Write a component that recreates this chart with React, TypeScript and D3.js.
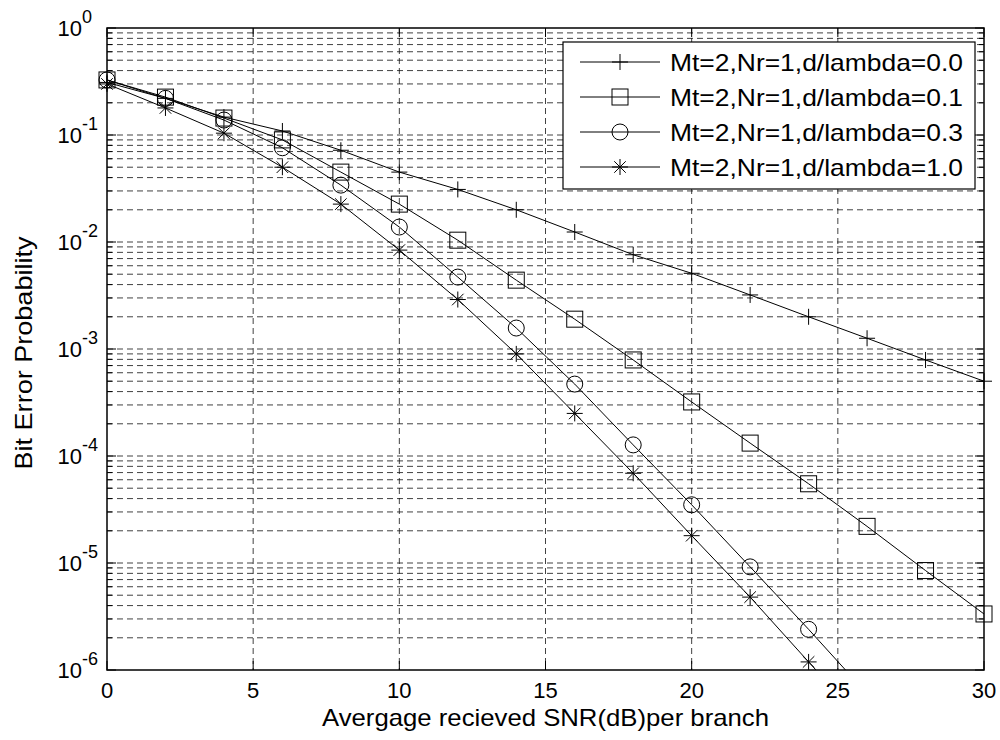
import React from "react";
import * as d3 from "d3";

// SNR in dB
const snr = [0, 2, 4, 6, 8, 10, 12, 14, 16, 18, 20, 22, 24, 26, 28, 30];

const berD00 = [0.31, 0.22, 0.147, 0.109, 0.072, 0.045, 0.031, 0.020, 0.0124, 0.0076, 0.0051, 0.0032, 0.0020, 0.00126, 0.00079, 0.0005];
const berD01 = [0.327, 0.226, 0.144, 0.090, 0.045, 0.0226, 0.0104, 0.0044, 0.0019, 0.00079, 0.00032, 0.000132, 5.5e-5, 2.2e-5, 8.5e-6, 3.34e-6];
const berD03 = [0.327, 0.22, 0.138, 0.076, 0.034, 0.0138, 0.0047, 0.00157, 0.00047, 0.000127, 3.5e-5, 9.2e-6, 2.4e-6, 6e-7];
const berD10 = [0.30, 0.179, 0.104, 0.050, 0.0226, 0.0084, 0.0029, 0.0009, 0.00025, 6.9e-5, 1.8e-5, 4.8e-6, 1.19e-6, 3e-7];

const seriesNames = [
  "Mt=2,Nr=1,d/lambda=0.0",
  "Mt=2,Nr=1,d/lambda=0.1",
  "Mt=2,Nr=1,d/lambda=0.3",
  "Mt=2,Nr=1,d/lambda=1.0",
];
const markers = ["plus", "square", "circle", "star"];
const xTicks = [0, 5, 10, 15, 20, 25, 30];
const yDecades = [0, -1, -2, -3, -4, -5, -6];

const W = 1000;
const H = 740;
const m = { left: 107, top: 28, right: 984, bottom: 670 };
const font = "Liberation Sans, Arial, Helvetica, sans-serif";

function Marker({ type, x, y }: { type: string; x: number; y: number }) {
  const s = 8;
  const st = { stroke: "#000", strokeWidth: 1, fill: "none" };
  if (type === "plus")
    return <path d={`M${x - s},${y}H${x + s}M${x},${y - s}V${y + s}`} {...st} />;
  if (type === "square")
    return <rect x={x - s} y={y - s} width={2 * s} height={2 * s} {...st} />;
  if (type === "circle") return <circle cx={x} cy={y} r={s} {...st} />;
  const d = s * 0.72;
  return (
    <path
      d={`M${x - s},${y}H${x + s}M${x},${y - s}V${y + s}M${x - d},${y - d}L${x + d},${y + d}M${x - d},${y + d}L${x + d},${y - d}`}
      {...st}
    />
  );
}

export default function App() {
  const x = d3.scaleLinear().domain([0, 30]).range([m.left, m.right]);
  const y = d3.scaleLog().domain([1e-6, 1]).range([m.bottom, m.top]);
  const all = [berD00, berD01, berD03, berD10];
  const line = d3
    .line<number>()
    .x((_, i) => x(snr[i]))
    .y((d) => y(d));

  const minors: number[] = [];
  yDecades.slice(1).forEach((e) => {
    for (let k = 2; k <= 9; k++) minors.push(k * Math.pow(10, e));
  });

  const grid = { stroke: "#111", strokeWidth: 0.8, strokeDasharray: "6,4" };

  return (
    <svg width={W} height={H} style={{ position: "absolute", left: 0, top: 0, background: "#fff" }}>
      <defs>
        <clipPath id="plot">
          <rect x={m.left} y={m.top} width={m.right - m.left} height={m.bottom - m.top} />
        </clipPath>
      </defs>
      <rect x={0} y={0} width={W} height={H} fill="#fff" />

      {/* grid */}
      {xTicks.slice(1, -1).map((t) => (
        <line key={"vx" + t} x1={x(t)} x2={x(t)} y1={m.top} y2={m.bottom} {...grid} />
      ))}
      {yDecades.slice(1, -1).map((e) => (
        <line key={"hy" + e} x1={m.left} x2={m.right} y1={y(Math.pow(10, e))} y2={y(Math.pow(10, e))} {...grid} />
      ))}
      {minors.map((v, i) => (
        <line key={"mn" + i} x1={m.left} x2={m.right} y1={y(v)} y2={y(v)} {...grid} />
      ))}

      {/* ticks */}
      {xTicks.map((t) => (
        <g key={"tx" + t}>
          <line x1={x(t)} x2={x(t)} y1={m.bottom} y2={m.bottom - 9} stroke="#000" />
          <line x1={x(t)} x2={x(t)} y1={m.top} y2={m.top + 9} stroke="#000" />
          <text x={x(t)} y={m.bottom + 28} textAnchor="middle" fontSize={22} fontFamily={font}>
            {t}
          </text>
        </g>
      ))}
      {yDecades.map((e) => (
        <g key={"ty" + e}>
          <line x1={m.left} x2={m.left + 9} y1={y(Math.pow(10, e))} y2={y(Math.pow(10, e))} stroke="#000" />
          <line x1={m.right} x2={m.right - 9} y1={y(Math.pow(10, e))} y2={y(Math.pow(10, e))} stroke="#000" />
          <text x={m.left - 25} y={y(Math.pow(10, e)) + 8} textAnchor="end" fontSize={22} fontFamily={font}>
            10
          </text>
          <text x={m.left - 25} y={y(Math.pow(10, e)) - 5} textAnchor="start" fontSize={18} fontFamily={font}>
            {e}
          </text>
        </g>
      ))}
      {minors.map((v, i) => (
        <g key={"mt" + i}>
          <line x1={m.left} x2={m.left + 5} y1={y(v)} y2={y(v)} stroke="#000" />
          <line x1={m.right} x2={m.right - 5} y1={y(v)} y2={y(v)} stroke="#000" />
        </g>
      ))}

      {/* series */}
      <g clipPath="url(#plot)">
        {all.map((s, i) => (
          <path key={"l" + i} d={line(s) || ""} fill="none" stroke="#000" strokeWidth={1} />
        ))}
      </g>
      {all.map((s, i) =>
        s.map((v, j) =>
          v >= 1e-6 ? <Marker key={`m${i}-${j}`} type={markers[i]} x={x(snr[j])} y={y(v)} /> : null
        )
      )}

      {/* axes box */}
      <rect x={m.left} y={m.top} width={m.right - m.left} height={m.bottom - m.top} fill="none" stroke="#000" strokeWidth={1.5} />

      {/* legend */}
      <g>
        <rect x={563} y={42} width={412} height={147} fill="#fff" stroke="#000" strokeWidth={1.2} />
        {seriesNames.map((n, i) => {
          const ly = 62 + i * 35;
          return (
            <g key={"lg" + i}>
              <line x1={580} x2={660} y1={ly} y2={ly} stroke="#000" />
              <Marker type={markers[i]} x={620} y={ly} />
              <text x={670} y={ly + 9} fontSize={24} fontFamily={font} textLength={293} lengthAdjust="spacingAndGlyphs">
                {n}
              </text>
            </g>
          );
        })}
      </g>

      {/* axis labels */}
      <text
        x={(m.left + m.right) / 2}
        y={726}
        textAnchor="middle"
        fontSize={24}
        fontFamily={font}
        textLength={447}
        lengthAdjust="spacingAndGlyphs"
      >
        Avergage recieved SNR(dB)per branch
      </text>
      <text
        transform={`translate(32,${(m.top + m.bottom) / 2 + 4}) rotate(-90)`}
        textAnchor="middle"
        fontSize={24}
        fontFamily={font}
        textLength={233}
        lengthAdjust="spacingAndGlyphs"
      >
        Bit Error Probability
      </text>
    </svg>
  );
}
